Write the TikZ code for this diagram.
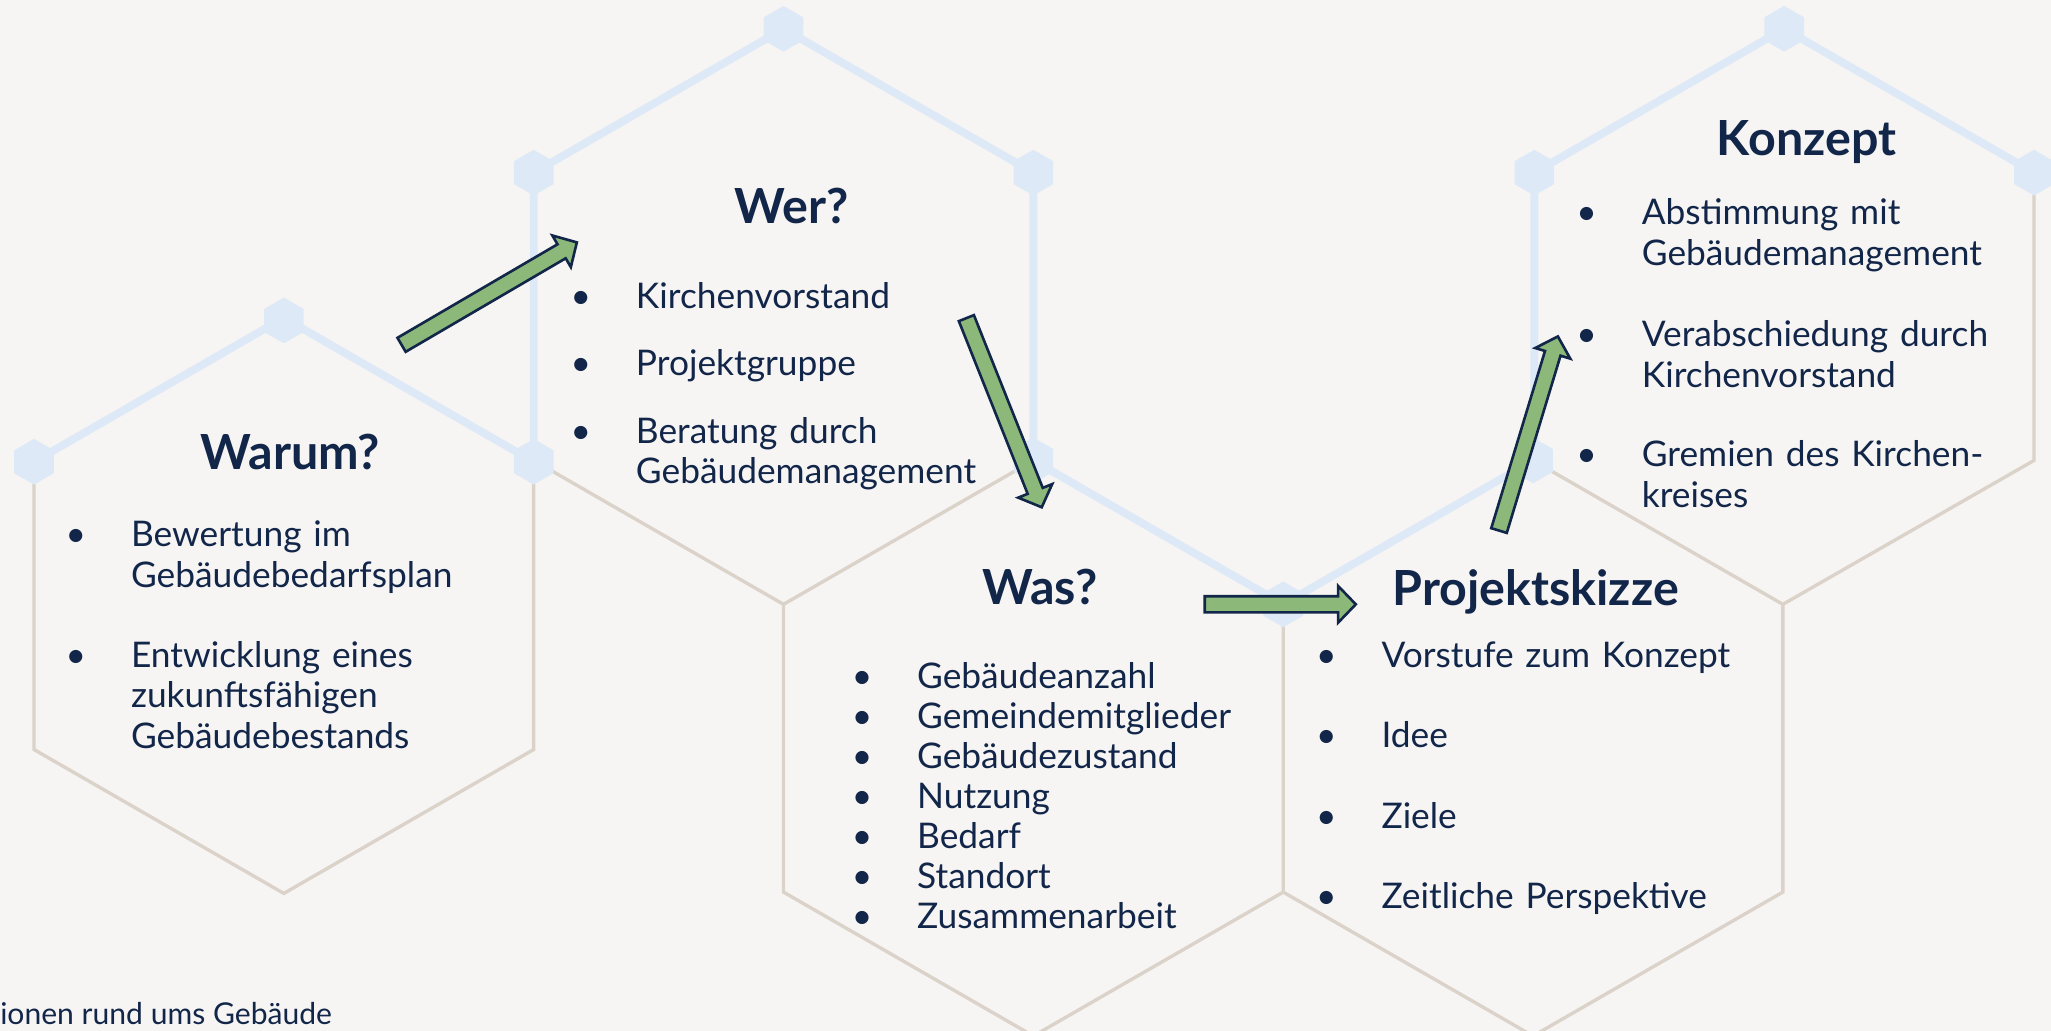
\documentclass[tikz,border=0pt]{standalone}
\usepackage{fontspec}
\setmainfont{Lato}
\usetikzlibrary{calc,shapes.geometric}
\definecolor{bgc}{HTML}{F7F5F3}
\definecolor{hexblue}{HTML}{DDE9F6}
\definecolor{hexbeige}{HTML}{DBD2CA}
\definecolor{navy}{HTML}{12264A}
\definecolor{arrgreen}{HTML}{8CB97A}
\tikzset{
  blueedge/.style={draw=hexblue, line width=6pt, line join=miter},
  beigeedge/.style={draw=hexbeige, line width=2.6pt, line join=miter},
  knot/.style={regular polygon, regular polygon sides=6, rotate=30, fill=hexblue, minimum size=35pt, inner sep=0pt},
  title/.style={font=\fontsize{37}{44}\selectfont\bfseries, text=navy, inner sep=0pt, anchor=base},
  itemlist/.style={font=\fontsize{27}{31}\selectfont, text=navy, inner sep=0pt, anchor=base west, text width=420pt, align=left},
  flow/.style={fill=arrgreen, draw=navy, line width=2pt, line join=miter},
}
\newcommand\bl[1]{\makebox[46pt][l]{\hspace*{-4pt}\textbullet}#1\par}
\newcommand\cl[1]{\hspace*{46pt}#1\par}
\newcommand\gap[1]{\vspace{#1pt}}
\newcommand\flowarrow[2]{%
  \coordinate (#1#2b) at ($(#2)!13.5pt!(#1)$);
  \draw[flow] ($(#1)!6.2pt!90:(#2)$) -- ($(#1#2b)!6.2pt!-90:(#1)$)
     -- ($(#1#2b)!14pt!-90:(#1)$) -- (#2) -- ($(#1#2b)!14pt!90:(#1)$)
     -- ($(#1#2b)!6.2pt!90:(#1)$) -- ($(#1)!6.2pt!-90:(#2)$) -- cycle;
}
\begin{document}
\begin{tikzpicture}[x=1pt,y=-1pt]
\useasboundingbox (0,0) rectangle (1568,788);
\clip (0,0) rectangle (1568,788);
\fill[bgc] (0,0) rectangle (1568,788);
% beige lower edges
\draw[beigeedge] (26,353) -- (26,573) -- (217,683) -- (408,573) -- (408,353);
\draw[beigeedge] (408,352) -- (599,462) -- (790,352);
\draw[beigeedge] (599,462) -- (599,682) -- (790,792) -- (981,682) -- (981,462);
\draw[beigeedge] (981,682) -- (1172,792) -- (1363,682) -- (1363,462) -- (1172,352);
\draw[beigeedge] (1363,462) -- (1555,352) -- (1555,132);
% blue upper edges
\draw[blueedge] (26,353) -- (217,243) -- (408,353);
\draw[blueedge] (408,352) -- (408,132) -- (599,22) -- (790,132) -- (790,352) -- (981,462) -- (1172,352);
\draw[blueedge] (1173,352) -- (1173,132) -- (1364,22) -- (1555,132);
% knots
\node[knot] (k1) at (217,245) {};
\node[knot] (k2) at (26,353) {};
\node[knot] (k3) at (408,353) {};
\node[knot] (k4) at (408,132) {};
\node[knot] (k5) at (599,22) {};
\node[knot] (k6) at (790,132) {};
\node[knot] (k7) at (790,352) {};
\node[knot] (k8) at (981,462) {};
\node[knot] (k9) at (1172,352) {};
\node[knot] (k10) at (1173,132) {};
\node[knot] (k11) at (1364,22) {};
\node[knot] (k12) at (1555,132) {};
% titles
\node[title] (t1) at (222,359) {Warum?};
\node[title] (t2) at (605,171) {Wer?};
\node[title] (t3) at (795,462) {Was?};
\node[title] (t4) at (1174,463) {Projektskizze};
\node[title] (t5) at (1381,119) {Konzept};
% lists
\node[itemlist] (l1) at (54,418) {\bl{Bewertung im}\cl{Gebäudebedarfsplan}\gap{30}\bl{Entwicklung eines}\cl{zukunftsfähigen}\cl{Gebäudebestands}};
\node[itemlist] (l2) at (440,236) {\bl{Kirchenvorstand}\gap{20}\bl{Projektgruppe}\gap{21}\bl{Beratung durch}\cl{Gebäudemanagement}};
\node[itemlist, font=\fontsize{27}{30.7}\selectfont] (l3) at (655,526) {\bl{Gebäudeanzahl}\bl{Gemeindemitglieder}\bl{Gebäudezustand}\bl{Nutzung}\bl{Bedarf}\bl{Standort}\bl{Zusammenarbeit}};
\node[itemlist] (l4) at (1010,510) {\bl{Vorstufe zum Konzept}\gap{30.5}\bl{Idee}\gap{30.5}\bl{Ziele}\gap{30.5}\bl{Zeitliche Perspektive}};
\node[itemlist] (l5) at (1209,172) {\bl{Abstimmung mit}\cl{Gebäudemanagement}\gap{31}\bl{Verabschiedung durch}\cl{Kirchenvorstand}\gap{30}\bl{Gremien des Kirchen-}\cl{kreises}};
\node[font=\fontsize{23}{27}\selectfont, text=navy, inner sep=0pt, anchor=base west] (foot) at (0,783) {ionen rund ums Gebäude};
% flow arrows
\coordinate (a1t) at (307,263.6);
\coordinate (a1h) at (441,185.3);
\coordinate (a2t) at (738.8,243.2);
\coordinate (a2h) at (796.4,387.8);
\coordinate (a3t) at (921,462);
\coordinate (a3h) at (1036.5,462);
\coordinate (a4t) at (1146,405.6);
\coordinate (a4h) at (1191,257.2);
\flowarrow{a1t}{a1h}
\flowarrow{a2t}{a2h}
\flowarrow{a3t}{a3h}
\flowarrow{a4t}{a4h}
\end{tikzpicture}
\end{document}
